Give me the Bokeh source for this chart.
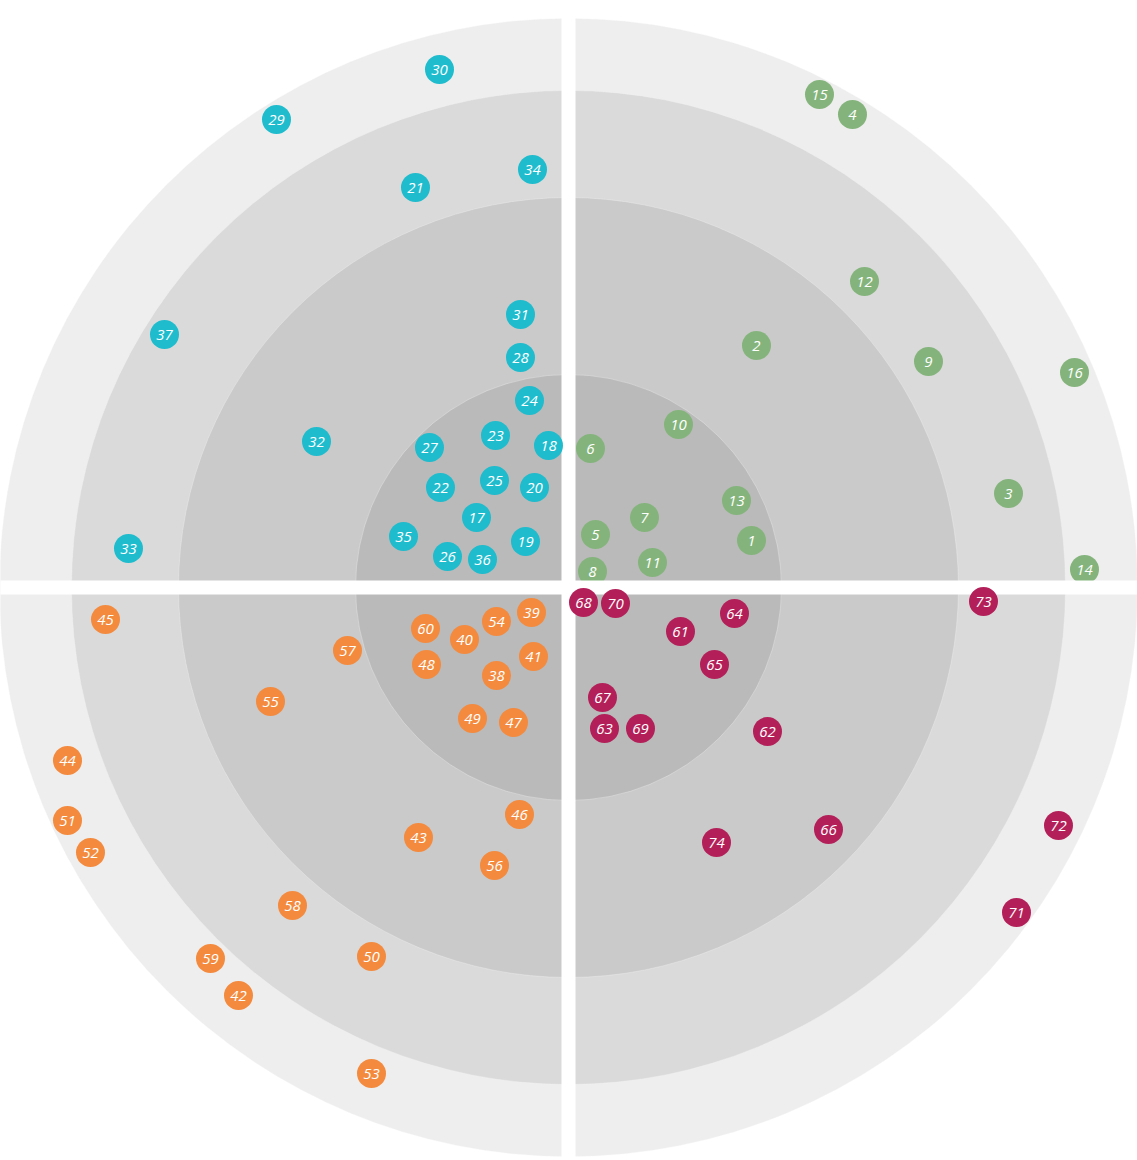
from bokeh.plotting import figure
from bokeh.models import Range1d, ColumnDataSource
from bokeh.embed import file_html
from bokeh.resources import INLINE
from bokeh.core.properties import value

# Ring radii (outer to inner) and fills
ring_radii = [569, 497, 390, 213]
ring_colors = ["#eeeeee", "#dadada", "#cacaca", "#bababa"]

# Quadrant blips: ids and positions (offsets from the radar centre)
green_ids = ["1", "2", "3", "4", "5", "6", "7", "8", "9", "10", "11", "12", "13", "14", "15", "16"]
green_x = [183, 188, 440, 284, 27, 22, 76, 24, 360, 110, 84, 296, 168, 516, 251, 506]
green_y = [47, 242, 94, 473, 53, 139, 70, 16, 226, 163, 25, 306, 87, 18, 493, 215]

teal_ids = ["17", "18", "19", "20", "21", "22", "23", "24", "25", "26", "27", "28", "29", "30",
            "31", "32", "33", "34", "35", "36", "37"]
teal_x = [-92, -20, -43, -34, -153, -128, -73, -39, -74, -121, -139, -48, -292, -129,
          -48, -252, -440, -36, -165, -86, -404]
teal_y = [70, 142, 46, 100, 400, 100, 152, 187, 107, 31, 140, 230, 468, 518,
          273, 146, 39, 418, 51, 28, 253]

orange_ids = ["38", "39", "40", "41", "42", "43", "44", "45", "46", "47", "48", "49", "50", "51",
              "52", "53", "54", "55", "56", "57", "58", "59", "60"]
orange_x = [-72, -37, -104, -35, -330, -150, -501, -463, -49, -55, -142, -96, -197, -501,
            -478, -197, -72, -298, -74, -221, -276, -358, -143]
orange_y = [-88, -25, -52, -69, -408, -250, -173, -32, -227, -135, -77, -131, -369, -233,
            -265, -486, -34, -114, -278, -63, -318, -371, -41]

crimson_ids = ["61", "62", "63", "64", "65", "66", "67", "68", "69", "70", "71", "72", "73", "74"]
crimson_x = [112, 199, 36, 166, 146, 260, 34, 15, 72, 47, 448, 490, 415, 148]
crimson_y = [-44, -144, -141, -26, -77, -242, -110, -15, -141, -16, -325, -238, -14, -255]

GREEN, TEAL, ORANGE, CRIMSON = "#84b47c", "#1ebccd", "#f38a3e", "#b32059"

p = figure(width=1137, height=1160, output_backend="svg", toolbar_location=None,
           x_range=Range1d(-568, 569), y_range=Range1d(-573, 587),
           min_border=0, min_border_left=0, min_border_right=0,
           min_border_top=0, min_border_bottom=0)
p.axis.visible = False
p.grid.visible = False
p.outline_line_color = None
p.background_fill_color = "white"
p.border_fill_color = "white"

for r, c in zip(ring_radii, ring_colors):
    p.circle(x=[0], y=[0], radius=r, fill_color=c, line_color="#f4f4f4",
             line_alpha=0.35, line_width=1)


def blips(ids, xs, ys, color):
    src = ColumnDataSource(dict(x=xs, y=ys, t=ids))
    p.circle(x="x", y="y", radius=14.5, source=src, fill_color=color, line_color=None)
    p.text(x="x", y="y", text="t", source=src, text_color="white",
           text_font=value("Open Sans"), text_font_style="italic",
           text_font_size="15px", text_align="center", text_baseline="middle")


blips(green_ids, green_x, green_y, GREEN)

# white separators between quadrants
p.quad(left=[-7, -600], right=[7, 600], bottom=[-600, -7], top=[600, 7],
       fill_color="white", line_color=None)

blips(teal_ids, teal_x, teal_y, TEAL)
blips(orange_ids, orange_x, orange_y, ORANGE)
blips(crimson_ids, crimson_x, crimson_y, CRIMSON)

open("out.html", "w").write(file_html(p, INLINE))
